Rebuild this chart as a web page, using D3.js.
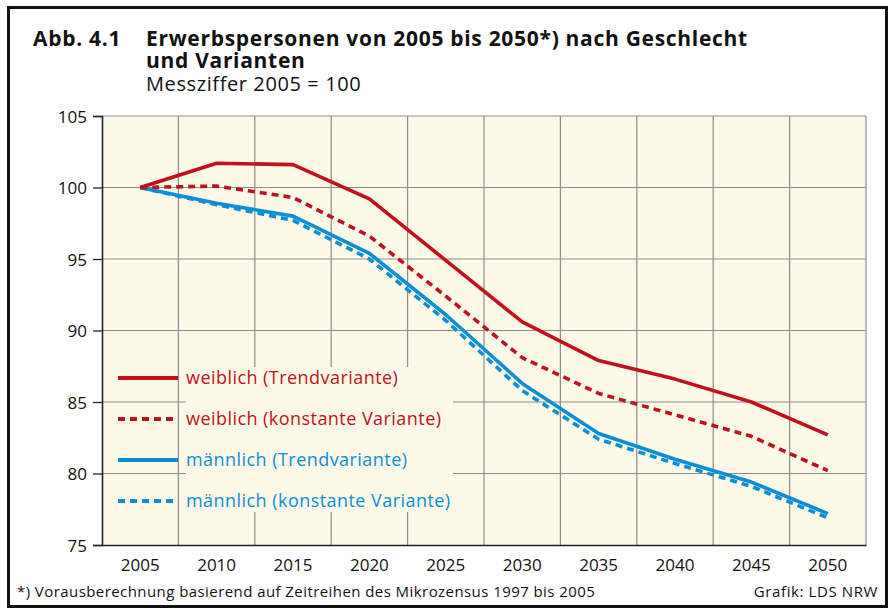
<!DOCTYPE html>
<html>
<head>
<meta charset="utf-8">
<script src="https://cdn.jsdelivr.net/npm/d3@7"></script>
<style>
    body { margin: 0; background: #fff; }
    svg { display: block; font-family: "Open Sans", "Noto Sans", sans-serif; }
</style>
</head>
<body>
<svg id="chart" width="890" height="610"></svg>
<script>
"use strict";

// values, index 2005 = 100
const years = [2005, 2010, 2015, 2020, 2025, 2030, 2035, 2040, 2045, 2050];
const weiblichTrend = [100, 101.7, 101.6, 99.2, 94.9, 90.6, 87.9, 86.6, 85.0, 82.7];
const weiblichKonstant = [100, 100.1, 99.3, 96.6, 92.4, 88.1, 85.6, 84.1, 82.6, 80.2];
const maennlichTrend = [100, 98.9, 98.0, 95.4, 91.1, 86.3, 82.8, 81.0, 79.4, 77.2];
const maennlichKonstant = [100, 98.8, 97.7, 95.0, 90.7, 85.8, 82.4, 80.7, 79.1, 76.9];
const yTicks = [75, 80, 85, 90, 95, 100, 105];

const RED = "#c0121e";
const BLUE = "#0a8fd5";

const series = [
    { name: "weiblich (Trendvariante)", values: weiblichTrend, color: RED, dashed: false },
    { name: "weiblich (konstante Variante)", values: weiblichKonstant, color: RED, dashed: true },
    { name: "männlich (Trendvariante)", values: maennlichTrend, color: BLUE, dashed: false },
    { name: "männlich (konstante Variante)", values: maennlichKonstant, color: BLUE, dashed: true }
];

const plot = { left: 102, right: 866, top: 116, bottom: 545 };
const svg = d3.select("#chart");

const x = d3.scaleBand().domain(years).range([plot.left, plot.right]);
const y = d3.scaleLinear().domain([75, 105]).range([plot.bottom, plot.top]);
const cx = (year) => x(year) + x.bandwidth() / 2;

// outer frame
svg.append("rect")
    .attr("x", 8.5).attr("y", 7.5)
    .attr("width", 878).attr("height", 599)
    .attr("fill", "#fff")
    .attr("stroke", "#111")
    .attr("stroke-width", 3);

// title block (letter-spacing widens Open Sans toward the original's wider face)
const title = svg.append("g").attr("fill", "#111");
title.append("text")
    .attr("x", 33).attr("y", 46)
    .attr("font-size", 21).attr("font-weight", 700)
    .attr("letter-spacing", 0.7)
    .text("Abb. 4.1");
title.append("text")
    .attr("x", 146).attr("y", 46)
    .attr("font-size", 21).attr("font-weight", 700)
    .attr("letter-spacing", 0.7)
    .text("Erwerbspersonen von 2005 bis 2050*) nach Geschlecht");
title.append("text")
    .attr("x", 146).attr("y", 68)
    .attr("font-size", 21).attr("font-weight", 700)
    .attr("letter-spacing", 0.7)
    .text("und Varianten");
title.append("text")
    .attr("x", 146).attr("y", 91)
    .attr("font-size", 20)
    .attr("letter-spacing", 0.6)
    .text("Messziffer 2005 = 100");

// plot background
svg.append("rect")
    .attr("x", plot.left).attr("y", plot.top)
    .attr("width", plot.right - plot.left)
    .attr("height", plot.bottom - plot.top)
    .attr("fill", "#fdf9e8");

// grid
const grid = svg.append("g")
    .attr("stroke", "#8c8c8c")
    .attr("stroke-width", 1.2);
grid.selectAll("line.v")
    .data(years)
    .join("line")
    .attr("class", "v")
    .attr("x1", (d) => x(d) + x.bandwidth())
    .attr("x2", (d) => x(d) + x.bandwidth())
    .attr("y1", plot.top)
    .attr("y2", plot.bottom);
grid.selectAll("line.h")
    .data(yTicks.filter((d) => d > 75))
    .join("line")
    .attr("class", "h")
    .attr("x1", plot.left)
    .attr("x2", plot.right)
    .attr("y1", (d) => y(d))
    .attr("y2", (d) => y(d));

// legend backdrop hides the grid behind the labels
svg.append("rect")
    .attr("x", 186).attr("y", 367)
    .attr("width", 267).attr("height", 145)
    .attr("fill", "#fdf9e8");

// axes
const yAxis = svg.append("g")
    .attr("transform", `translate(${plot.left},0)`)
    .call(d3.axisLeft(y).tickValues(yTicks).tickSize(9).tickPadding(6));
const xAxis = svg.append("g")
    .attr("transform", `translate(0,${plot.bottom})`)
    .call(d3.axisBottom(x).tickSize(0).tickPadding(11));
[yAxis, xAxis].forEach((axis) => {
    axis.select(".domain").attr("stroke", "#222").attr("stroke-width", 1.6);
    axis.selectAll(".tick line").attr("stroke", "#222").attr("stroke-width", 1.3);
    axis.selectAll("text")
        .attr("font-family", "\"Open Sans\", \"Noto Sans\", sans-serif")
        .attr("font-size", 17)
        .attr("fill", "#111");
});
yAxis.selectAll("text").attr("dy", "0.36em");
xAxis.selectAll("text").attr("dy", "0.9em");

// data lines
const line = d3.line()
    .x((d, i) => cx(years[i]))
    .y((d) => y(d));
svg.append("g")
    .selectAll("path")
    .data(series.slice().reverse())
    .join("path")
    .attr("d", (d) => line(d.values))
    .attr("fill", "none")
    .attr("stroke", (d) => d.color)
    .attr("stroke-width", 3.6)
    .attr("stroke-linejoin", "round")
    .attr("stroke-dasharray", (d) => (d.dashed ? "7,5" : null));

// legend
const legend = svg.append("g")
    .selectAll("g")
    .data(series)
    .join("g")
    .attr("transform", (d, i) => `translate(118,${378 + i * 41})`);
legend.append("line")
    .attr("x1", 0).attr("x2", 60)
    .attr("stroke", (d) => d.color)
    .attr("stroke-width", 4)
    .attr("stroke-dasharray", (d) => (d.dashed ? "7,5" : null));
legend.append("text")
    .attr("x", 68).attr("dy", "0.36em")
    .attr("font-size", 18)
    .attr("letter-spacing", 0.45)
    .attr("fill", (d) => d.color)
    .text((d) => d.name);

// footer
svg.append("text")
    .attr("x", 17).attr("y", 597)
    .attr("font-size", 15).attr("fill", "#111")
    .attr("letter-spacing", 0.43)
    .text("*) Vorausberechnung basierend auf Zeitreihen des Mikrozensus 1997 bis 2005");
svg.append("text")
    .attr("x", 878).attr("y", 597)
    .attr("font-size", 15).attr("fill", "#111")
    .attr("letter-spacing", 0.6)
    .attr("text-anchor", "end")
    .text("Grafik: LDS NRW");
</script>
</body>
</html>
